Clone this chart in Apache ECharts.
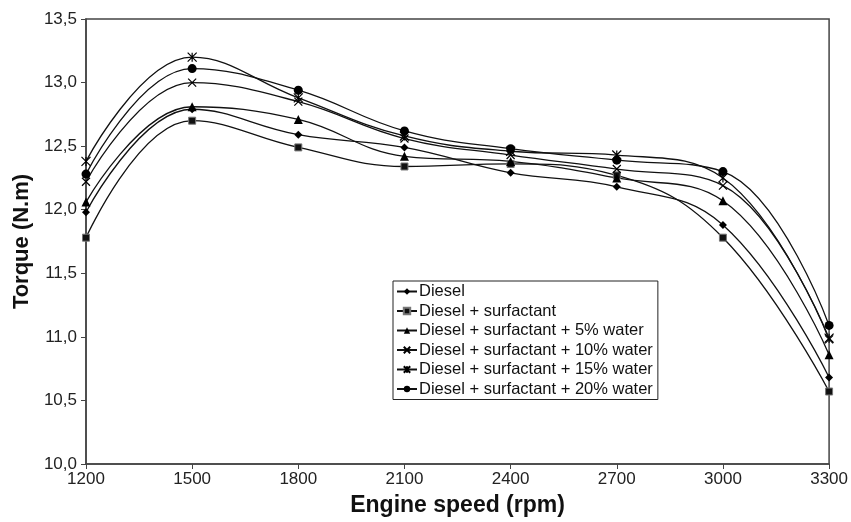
<!DOCTYPE html>
<html><head><meta charset="utf-8">
<script src="https://cdn.jsdelivr.net/npm/echarts@6/dist/echarts.min.js"></script>
<style>html,body{margin:0;padding:0;background:#fff}#c{width:851px;height:522px}</style>
</head><body><div id="c"></div>
<script>
const speeds = [1200,1500,1800,2100,2400,2700,3000,3300];
const seriesNames = ['Diesel','Diesel + surfactant','Diesel + surfactant + 5% water','Diesel + surfactant + 10% water','Diesel + surfactant + 15% water','Diesel + surfactant + 20% water'];
const diesel    = [11.98, 12.79, 12.59, 12.49, 12.29, 12.18, 11.88, 10.68];
const surf      = [11.78, 12.70, 12.49, 12.34, 12.36, 12.27, 11.78, 10.57];
const water5    = [12.06, 12.81, 12.71, 12.42, 12.38, 12.25, 12.07, 10.86];
const water10   = [12.22, 13.00, 12.85, 12.56, 12.43, 12.32, 12.19, 10.98];
const water15   = [12.38, 13.20, 12.88, 12.58, 12.46, 12.43, 12.25, 10.99];
const water20   = [12.28, 13.11, 12.94, 12.62, 12.48, 12.39, 12.30, 11.09];
const yTicks = [10.0,10.5,11.0,11.5,12.0,12.5,13.0,13.5];

const allData = [diesel, surf, water5, water10, water15, water20];
const symbols = [
  {symbol:'diamond', size:8, item:{color:'#000'}},
  {symbol:'rect', size:7, item:{color:'#111', borderColor:'#777', borderWidth:1}},
  {symbol:'triangle', size:9, item:{color:'#000'}},
  {symbol:'path://M0,0L10,10M10,0L0,10', size:8, item:{color:'none', borderColor:'#000', borderWidth:1.2}},
  {symbol:'path://M0,0L10,10M10,0L0,10M5,0L5,10', size:9, item:{color:'none', borderColor:'#000', borderWidth:1.2}},
  {symbol:'circle', size:9, item:{color:'#000'}}
];

const series = allData.map((d,i)=>({
  name: seriesNames[i],
  type:'line',
  smooth:0.42,
  data: d.map((v,j)=>[speeds[j], v]),
  symbol: symbols[i].symbol,
  symbolSize: symbols[i].size,
  itemStyle: symbols[i].item,
  lineStyle:{color:'#111', width:1.3},
  emphasis:{disabled:true},
  animation:false
}));

const chart = echarts.init(document.getElementById('c'), null, {renderer:'canvas'});
const font = 'Liberation Sans, Arial, sans-serif';
chart.setOption({
  animation:false,
  backgroundColor:'#fff',
  grid:{left:86, right:16, top:19, bottom:57, show:true, borderColor:'#444', borderWidth:1.5, backgroundColor:'transparent'},
  legend:{
    orient:'vertical', left:393, top:281,
    data: seriesNames,
    itemWidth:20, itemHeight:8, itemGap:2.5,
    padding:[2,5,2,3],
    borderColor:'#222', borderWidth:1, backgroundColor:'#fff',
    textStyle:{fontFamily:font, fontSize:16.5, color:'#111', padding:[0,0,0,-3]}
  },
  xAxis:{
    type:'value', min:1200, max:3300, interval:300,
    name:'Engine speed (rpm)', nameLocation:'middle', nameGap:30,
    nameTextStyle:{fontFamily:font, fontSize:23, fontWeight:'bold', color:'#111'},
    axisLine:{lineStyle:{color:'#444', width:1.5}},
    axisTick:{show:true, length:5, lineStyle:{color:'#444'}},
    axisLabel:{fontFamily:font, fontSize:17, color:'#222', margin:7,
      formatter: v => String(v)},
    splitLine:{show:false}
  },
  yAxis:{
    type:'value', min:10, max:13.5, interval:0.5,
    name:'Torque (N.m)', nameLocation:'middle', nameGap:53, nameRotate:90,
    nameTextStyle:{fontFamily:font, fontSize:22, fontWeight:'bold', color:'#111'},
    axisLine:{show:true, lineStyle:{color:'#444', width:1.5}},
    axisTick:{show:true, length:5, lineStyle:{color:'#444'}},
    axisLabel:{fontFamily:font, fontSize:17, color:'#222', margin:9,
      formatter: v => v.toFixed(1).replace('.', ',')},
    splitLine:{show:false}
  },
  series: series
});
</script></body></html>
